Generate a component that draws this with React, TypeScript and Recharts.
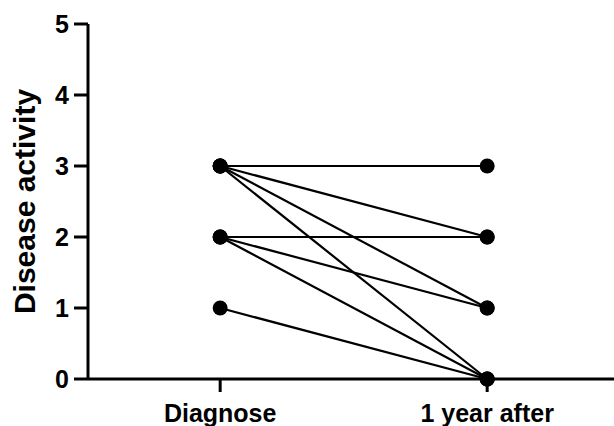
import { ScatterChart, Scatter, XAxis, YAxis, Label } from "recharts";

const timepoints = ["Diagnose", "1 year after"];
const before = [3, 3, 3, 3, 2, 2, 2, 1];
const after = [3, 2, 1, 0, 2, 1, 0, 0];
const yTicks = [0, 1, 2, 3, 4, 5];

const pairs = before.map((b, i) => [
  { x: 1, y: b },
  { x: 2, y: after[i] },
]);

const font = "'Liberation Sans', Arial, sans-serif";

const Dot = (props: any) => <circle cx={props.cx} cy={props.cy} r={7.5} fill="#000" />;

export default function App() {
  return (
    <div style={{ position: "absolute", left: 0, top: 0, background: "#fff" }}>
      <ScatterChart width={614} height={426} margin={{ top: 24, right: 0, bottom: 0, left: 0 }}>
        <XAxis
          type="number"
          dataKey="x"
          domain={[0.505, 2.475]}
          ticks={[1, 2]}
          tickFormatter={(v: number) => timepoints[v - 1]}
          height={47}
          axisLine={{ stroke: "#000", strokeWidth: 3 }}
          tickLine={{ stroke: "#000", strokeWidth: 3 }}
          tickSize={13}
          tickMargin={12}
          tick={{ fill: "#000", fontSize: 25, fontWeight: 700, fontFamily: font }}
          allowDataOverflow
        />
        <YAxis
          type="number"
          dataKey="y"
          domain={[0, 5]}
          ticks={yTicks}
          width={88}
          axisLine={{ stroke: "#000", strokeWidth: 3 }}
          tickLine={{ stroke: "#000", strokeWidth: 3 }}
          tickSize={14}
          tickMargin={5}
          tick={{ fill: "#000", fontSize: 25, fontWeight: 700, fontFamily: font }}
        >
          <Label
            value="Disease activity"
            angle={-90}
            position="insideLeft"
            offset={24}
            style={{ fill: "#000", fontSize: 30, fontWeight: 700, fontFamily: font, textAnchor: "middle" }}
          />
        </YAxis>
        {pairs.map((d, i) => (
          <Scatter
            key={i}
            data={d}
            line={{ stroke: "#000", strokeWidth: 2.2 }}
            shape={Dot}
            isAnimationActive={false}
          />
        ))}
      </ScatterChart>
    </div>
  );
}
